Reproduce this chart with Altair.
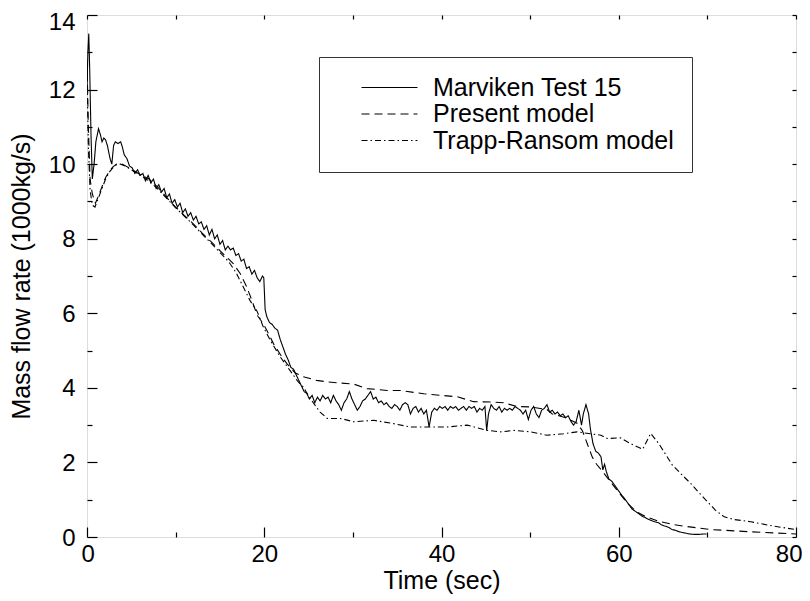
import altair as alt
import pandas as pd

series_names = ["Marviken Test 15", "Present model", "Trapp-Ransom model"]

marv_t = [0, 0.1, 0.2, 0.3, 0.45, 0.6, 0.8, 1.0, 1.3, 1.5, 1.7, 1.9, 2.1, 2.3, 2.6, 2.8, 3.0, 3.2, 3.5, 3.8,
          4.0, 4.2, 4.5, 4.8, 5.1, 5.4, 5.7, 6.0, 6.3, 6.6, 6.9, 7.2, 7.5, 7.8, 8.1, 8.4, 8.7, 9.0, 9.3, 9.6,
          9.9, 10.2, 10.5, 10.8, 11.1, 11.4, 11.7, 12.0, 12.3, 12.6, 12.9, 13.2, 13.5, 13.8, 14.1, 14.4, 14.7,
          15.0, 15.3, 15.6, 15.9, 16.2, 16.5, 16.8, 17.1, 17.4, 17.7, 18.0, 18.3, 18.6, 18.9, 19.2, 19.5, 19.8,
          19.95, 20.1, 20.3, 20.6, 20.9, 21.2, 21.5, 21.8, 22.1, 22.4, 22.7, 23.0, 23.3, 23.6, 23.9, 24.2, 24.5,
          24.8, 25.1, 25.4, 25.7, 26.0, 26.3, 26.6, 26.9, 27.2, 27.5, 27.8, 28.1, 28.4, 28.7, 29.0, 29.3, 29.6,
          29.9, 30.2, 30.5, 30.8, 31.1, 31.4, 31.7, 32.0, 32.3, 32.6, 32.9, 33.2, 33.5, 33.8, 34.1, 34.4, 34.7,
          35.0, 35.3, 35.6, 35.9, 36.2, 36.5, 36.8, 37.1, 37.4, 37.7, 38.0, 38.3, 38.6, 38.9, 39.2, 39.5, 39.8,
          40.1, 40.4, 40.7, 41.0, 41.3, 41.6, 41.9, 42.2, 42.5, 42.8, 43.1, 43.4, 43.7, 44.0, 44.3, 44.6, 44.9,
          45.1, 45.3, 45.6, 45.9, 46.2, 46.5, 46.8, 47.1, 47.4, 47.7, 48.0, 48.3, 48.6, 48.9, 49.2, 49.5, 49.8,
          50.1, 50.4, 50.7, 51.0, 51.3, 51.6, 51.9, 52.2, 52.5, 52.8, 53.1, 53.4, 53.7, 54.0, 54.3, 54.6, 54.9,
          55.2, 55.5, 55.8, 56.0, 56.3, 56.6, 56.8, 57.1, 57.4, 57.7, 58.0, 58.2, 58.4, 58.6, 58.9, 59.2, 59.5,
          59.8, 60.1, 60.4, 60.6, 60.9, 61.2, 61.5, 61.8, 62.1, 62.4, 62.7, 63.0, 63.3, 63.6, 63.9, 64.2, 64.5,
          64.8, 65.1, 65.4, 65.7, 66.0, 66.4, 66.8, 67.2, 67.6, 68.0, 68.5, 69.0, 69.5, 69.9]
marv_v = [12.0, 13.0, 13.5, 12.6, 10.8, 9.6, 10.0, 10.6, 10.95, 10.8, 10.6, 10.7, 10.65, 10.5, 10.15, 10.0, 10.5, 10.6, 10.55, 10.6,
          10.45, 10.25, 10.15, 9.95, 9.9, 9.75, 9.85, 9.7, 9.75, 9.55, 9.7, 9.5, 9.6, 9.35, 9.45, 9.25, 9.35, 9.1, 9.2, 8.95,
          9.05, 8.85, 8.95, 8.7, 8.8, 8.6, 8.7, 8.5, 8.6, 8.4, 8.45, 8.25, 8.35, 8.1, 8.25, 8.0, 8.1,
          7.85, 7.95, 7.7, 7.8, 7.7, 7.75, 7.55, 7.6, 7.4, 7.45, 7.2, 7.25, 7.05, 7.15, 6.95, 6.85, 7.0,
          6.95, 6.1, 5.9, 5.75, 5.7, 5.6, 5.55, 5.3, 5.1, 4.9, 4.75, 4.55, 4.5, 4.35, 4.2, 4.05, 3.9,
          3.85, 3.7, 3.8, 3.6, 3.75, 3.65, 3.8, 3.7, 3.75, 3.6, 3.8, 3.65, 3.55, 3.4, 3.6, 3.7, 3.9,
          3.7, 3.55, 3.4, 3.5, 3.65, 3.7, 3.8, 3.9, 3.7, 3.75, 3.6, 3.65, 3.55, 3.6, 3.5, 3.45, 3.55,
          3.5, 3.4, 3.55, 3.6, 3.55, 3.3, 3.45, 3.5, 3.35, 3.45, 3.3, 3.4, 2.95, 3.35, 3.45, 3.4, 3.5,
          3.45, 3.5, 3.4, 3.5, 3.45, 3.5, 3.4, 3.45, 3.5, 3.4, 3.5, 3.45, 3.5, 3.35, 3.45, 3.4, 3.5,
          2.85, 3.3, 3.55, 3.45, 3.4, 3.5, 3.35, 3.45, 3.4, 3.45, 3.4, 3.5, 3.45, 3.4, 3.3, 3.4, 3.15,
          3.4, 3.5, 3.3, 3.2, 3.4, 3.45, 3.55, 3.35, 3.4, 3.3, 3.35, 3.25, 3.3, 3.2, 3.25, 3.1, 3.0,
          3.1, 3.4, 3.0, 3.3, 3.55, 3.3, 2.9, 2.5, 2.3, 2.25, 2.15, 1.8, 1.95, 1.75, 1.55, 1.5, 1.4,
          1.3, 1.2, 1.1, 1.05, 0.95, 0.85, 0.75, 0.7, 0.65, 0.6, 0.55, 0.52, 0.48, 0.45, 0.42, 0.4, 0.38,
          0.33, 0.3, 0.28, 0.25, 0.2, 0.18, 0.14, 0.12, 0.1, 0.08, 0.07, 0.07, 0.08, 0.08]

pres_t = [0, 0.15, 0.35, 0.6, 0.95, 1.3, 1.7, 2.1, 2.5, 2.9, 3.3, 3.8, 4.3, 5.0, 6.0, 7.0, 8.0, 9.0, 10.0,
          11.0, 12.0, 13.0, 14.0, 15.0, 16.0, 16.5, 17.3, 18.0, 18.6, 19.2, 19.8, 20.3, 21.05, 21.8, 22.55,
          23.5, 24.4, 25.9, 27.1, 28.5, 30.1, 31.6, 33.85, 35.4, 38.0, 39.9, 41.8, 43.6, 45.7, 47.0, 48.5,
          50.05, 51.9, 52.5, 54.0, 55.3, 55.9, 56.45, 57.0, 57.5, 58.2, 59.0, 60.0, 61.0, 62.0, 63.0, 64.4,
          66.0, 67.4, 70.4, 74.9, 80.0]
pres_v = [12.8, 11.0, 9.6, 9.2, 8.95, 9.15, 9.4, 9.64, 9.8, 9.92, 10.0, 10.02, 9.96, 9.87, 9.72, 9.6, 9.38, 9.1, 8.85,
          8.62, 8.4, 8.15, 7.92, 7.68, 7.45, 7.33, 7.06, 6.72, 6.35, 5.95, 5.75, 5.54, 5.18, 4.9, 4.65,
          4.4, 4.3, 4.2, 4.16, 4.13, 4.1, 3.98, 3.93, 3.93, 3.84, 3.8, 3.76, 3.63, 3.62, 3.6, 3.5,
          3.49, 3.42, 3.3, 3.2, 3.05, 2.85, 2.5, 2.15, 1.95, 1.75, 1.5, 1.2, 0.9, 0.68, 0.55, 0.43,
          0.34, 0.29, 0.2, 0.14, 0.08]

trapp_t = [0, 0.15, 0.35, 0.6, 0.9, 1.3, 1.7, 2.1, 2.5, 2.9, 3.3, 3.8, 4.3, 5.0, 6.0, 7.0, 8.0, 9.0, 10.0,
           11.0, 12.0, 13.0, 14.0, 15.0, 16.0, 16.8, 17.65, 18.4, 19.2, 19.9, 20.7, 21.8, 22.9, 23.7, 24.4,
           25.2, 26.3, 27.1, 28.6, 30.1, 32.35, 34.6, 36.5, 38.4, 40.6, 42.9, 45.15, 46.7, 48.2, 50.05, 51.9,
           53.8, 55.3, 56.8, 58.0, 58.7, 60.2, 61.0, 61.7, 62.7, 63.6, 64.5, 65.2, 66.05, 67.0, 68.1, 69.0,
           70.0, 70.9, 71.9, 73.0, 74.9, 77.5, 80.0]
trapp_v = [12.5, 10.5, 9.3, 8.9, 8.85, 9.1, 9.35, 9.6, 9.78, 9.9, 9.98, 10.0, 9.95, 9.85, 9.7, 9.55, 9.33, 9.08, 8.83,
           8.6, 8.37, 8.12, 7.88, 7.63, 7.38, 7.1, 6.7, 6.34, 6.05, 5.63, 5.27, 4.83, 4.47, 4.2, 4.02,
           3.71, 3.35, 3.18, 3.18, 3.09, 3.13, 3.04, 2.95, 2.95, 2.95, 3.0, 2.86, 2.82, 2.86, 2.82, 2.73,
           2.77, 2.82, 2.77, 2.73, 2.64, 2.66, 2.55, 2.46, 2.35, 2.78, 2.51, 2.25, 1.93, 1.7, 1.44, 1.2,
           0.95, 0.72, 0.54, 0.47, 0.41, 0.29, 0.2]

x_major = [0, 20, 40, 60, 80]
x_minor = [10, 30, 50, 70]
x_all = [0, 10, 20, 30, 40, 50, 60, 70, 80]
y_labels_main = [0, 2, 4, 6, 8, 10, 12]
y_label_top = [14]
y_major = [0, 2, 4, 6, 8, 10, 12, 14]
y_minor = [1, 3, 5, 7, 9, 11, 13]
y_all = list(range(0, 15))

rows = []
for name, ts, vs in zip(series_names, [marv_t, pres_t, trapp_t], [marv_v, pres_v, trapp_v]):
    for t, v in zip(ts, vs):
        rows.append({"series": name, "t": t, "v": v})
df = pd.DataFrame(rows)

W, H = 709, 522
FONT = "Liberation Sans"
xs = alt.Scale(domain=[0, 80], nice=False, zero=False)
ys = alt.Scale(domain=[0, 14], nice=False, zero=False)

base = alt.Chart(df)

lines = base.mark_line(strokeWidth=1.1, clip=True, color="black").encode(
    x=alt.X("t:Q", scale=xs, axis=alt.Axis(
        title="Time (sec)", values=x_major, ticks=False, domain=False, grid=False,
        labelFontSize=24, titleFontSize=25, labelPadding=5, titlePadding=2,
        labelFlush=True, labelFlushOffset=6,
        labelColor="black", titleColor="black", titleFontWeight="normal", labelFont=FONT, titleFont=FONT)),
    y=alt.Y("v:Q", scale=ys, axis=alt.Axis(
        title="Mass flow rate (1000kg/s)", values=y_labels_main, ticks=False, domain=False, grid=False,
        labelFontSize=24, titleFontSize=25, labelPadding=12, titlePadding=14, labelOffset=1,
        labelColor="black", titleColor="black", titleFontWeight="normal", labelFont=FONT, titleFont=FONT)),
    strokeDash=alt.StrokeDash("series:N", scale=alt.Scale(
        domain=series_names, range=[[1, 0], [8, 5], [6, 3, 1.5, 3]]),
        legend=alt.Legend(
            title=None, orient="none", legendX=232, legendY=42,
            symbolType="M-2.8,0H2.8", symbolSize=400, symbolStrokeWidth=1.1,
            symbolStrokeColor="black", symbolFillColor="transparent",
            labelFontSize=25, labelFont=FONT, labelColor="black", labelOffset=31,
            symbolOffset=40, padding=18, rowPadding=0.5, strokeColor="#333333",
            fillColor="white", labelLimit=400)),
)

top_label = base.mark_point(opacity=0).encode(
    x=alt.X("t:Q", scale=xs, axis=alt.Axis(
        orient="bottom", labels=False, ticks=False, domain=False, grid=False, title=None)),
    y=alt.Y("v:Q", scale=ys, axis=alt.Axis(
        orient="left", values=y_label_top, ticks=False, domain=False, grid=False, title=None,
        labelFontSize=24, labelPadding=12, labelOffset=7, labelColor="black", labelFont=FONT)),
)


def tick_layer(xvals, yvals, size, x_orient, y_orient):
    return base.mark_point(opacity=0).encode(
        x=alt.X("t:Q", scale=xs, axis=alt.Axis(
            orient=x_orient, offset=-H, values=xvals, tickSize=size, labels=False,
            domain=False, grid=False, title=None, tickColor="black", tickWidth=1.2)),
        y=alt.Y("v:Q", scale=ys, axis=alt.Axis(
            orient=y_orient, offset=-W, values=yvals, tickSize=size, labels=False,
            domain=False, grid=False, title=None, tickColor="black", tickWidth=1.2)),
    )


major = tick_layer(x_major, y_major, 10, "top", "right")
minor = tick_layer(x_minor, y_minor, 5, "top", "right")
edge = tick_layer(x_all, y_all, 4, "bottom", "left")

chart = alt.layer(lines, top_label, major, minor, edge).resolve_axis(
    x="independent", y="independent"
).properties(
    width=W, height=H,
    padding={"left": 79, "top": 7, "right": 6, "bottom": 57},
    autosize=alt.AutoSizeParams(type="none"),
).configure_view(
    stroke="black", strokeWidth=1.5
).configure(font=FONT)

chart.save("out.html", embed_options={"renderer": "svg", "actions": False})
